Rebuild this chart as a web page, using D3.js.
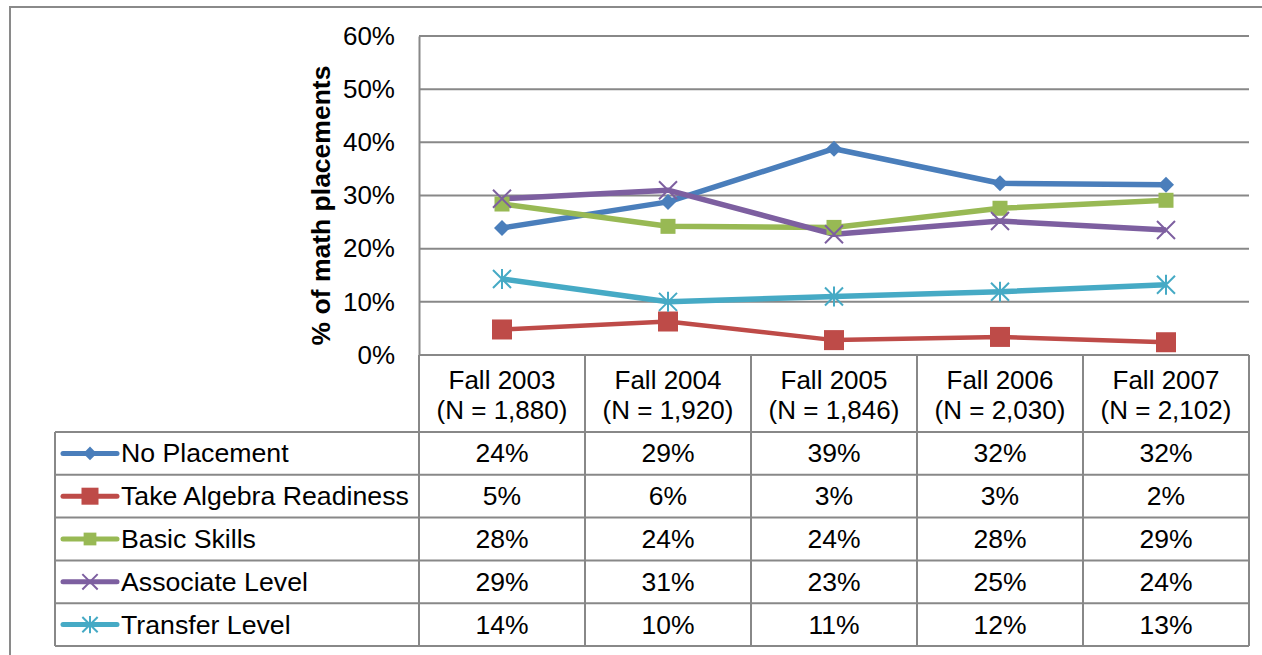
<!DOCTYPE html>
<html>
<head>
<meta charset="utf-8">
<script src="https://cdn.jsdelivr.net/npm/d3@7"></script>
<style>
  body { margin: 0; background: #fff; }
  text { font-family: "Liberation Sans", Arial, sans-serif; fill: #000; }
</style>
</head>
<body>
<div id="main"></div>
<script>
// data
var categories = ["Fall 2003", "Fall 2004", "Fall 2005", "Fall 2006", "Fall 2007"];
var counts = ["(N = 1,880)", "(N = 1,920)", "(N = 1,846)", "(N = 2,030)", "(N = 2,102)"];
var seriesNames = ["No Placement", "Take Algebra Readiness", "Basic Skills", "Associate Level", "Transfer Level"];
var noPlacement = [23.9, 28.8, 38.8, 32.3, 32.0];
var algebraReadiness = [4.8, 6.3, 2.8, 3.4, 2.4];
var basicSkills = [28.4, 24.2, 24.0, 27.6, 29.1];
var associateLevel = [29.4, 31.0, 22.7, 25.2, 23.5];
var transferLevel = [14.3, 10.0, 11.0, 11.9, 13.2];
var tableLabels = [
  ["24%", "29%", "39%", "32%", "32%"],
  ["5%", "6%", "3%", "3%", "2%"],
  ["28%", "24%", "24%", "28%", "29%"],
  ["29%", "31%", "23%", "25%", "24%"],
  ["14%", "10%", "11%", "12%", "13%"]
];
var yTicks = [0, 10, 20, 30, 40, 50, 60];

var allSeries = [noPlacement, algebraReadiness, basicSkills, associateLevel, transferLevel];
var colors = ["#4a7ebb", "#be4b48", "#98b954", "#7d5fa0", "#46aac5"];
var markers = ["diamond", "bigsquare", "square", "x", "star"];

var W = 1262, H = 655;
var plot = {left: 419, right: 1249, top: 36, bottom: 355};
var tableLeft = 55;
var headerBottom = 432, rowH = 42.8;
var gridColor = "#888";
var fontSize = "26px";

var svg = d3.select("#main")
  .append("svg")
    .attr("width", W)
    .attr("height", H);

// outer chart border
svg.append("rect")
  .attr("x", 10).attr("y", 7)
  .attr("width", W + 10).attr("height", H + 10)
  .attr("fill", "none")
  .attr("stroke", "#8a8a8a")
  .attr("stroke-width", 2);

var xScale = d3.scaleBand()
  .domain(categories)
  .range([plot.left, plot.right]);

var yScale = d3.scaleLinear()
  .domain([0, 60])
  .range([plot.bottom, plot.top]);

// gridlines
svg.append("g")
  .selectAll("line")
  .data(yTicks)
  .enter()
  .append("line")
    .attr("x1", plot.left)
    .attr("x2", plot.right)
    .attr("y1", function(d) { return yScale(d); })
    .attr("y2", function(d) { return yScale(d); })
    .attr("stroke", gridColor)
    .attr("stroke-width", 2);

// y axis
var yAxis = svg.append("g")
  .attr("transform", "translate(" + plot.left + ",0)")
  .call(d3.axisLeft(yScale).tickValues(yTicks).tickSize(0).tickPadding(24)
    .tickFormat(function(d) { return d + "%"; }));
yAxis.select(".domain").attr("stroke", gridColor).attr("stroke-width", 2);
yAxis.selectAll("text")
  .style("font-size", fontSize)
  .style("font-family", "Liberation Sans, Arial, sans-serif")
  .attr("fill", "#000");

// y axis title
svg.append("text")
  .attr("transform", "translate(330," + ((plot.top + plot.bottom) / 2 + 10) + ") rotate(-90)")
  .style("text-anchor", "middle")
  .style("font-size", "26.5px")
  .style("font-weight", "bold")
  .text("% of math placements");

// marker drawing
function drawMarker(g, type, color, x, y, scale) {
  scale = scale || 1;
  if (type === "diamond") {
    var s = 8 * scale;
    g.append("path")
      .attr("d", "M" + x + "," + (y - s) + "L" + (x + s) + "," + y + "L" + x + "," + (y + s) + "L" + (x - s) + "," + y + "Z")
      .attr("fill", color);
  } else if (type === "bigsquare" || type === "square") {
    var h = (type === "bigsquare" ? 10 : 7.5) * scale;
    g.append("rect")
      .attr("x", x - h).attr("y", y - h)
      .attr("width", 2 * h).attr("height", 2 * h)
      .attr("fill", color);
  } else if (type === "x") {
    var k = 9 * scale;
    g.append("path")
      .attr("d", "M" + (x - k) + "," + (y - k) + "L" + (x + k) + "," + (y + k) + "M" + (x - k) + "," + (y + k) + "L" + (x + k) + "," + (y - k))
      .attr("stroke", color).attr("stroke-width", 2).attr("fill", "none");
  } else if (type === "star") {
    var r = 9 * scale;
    g.append("path")
      .attr("d", "M" + (x - r) + "," + (y - r) + "L" + (x + r) + "," + (y + r) + "M" + (x - r) + "," + (y + r) + "L" + (x + r) + "," + (y - r) +
                 "M" + x + "," + (y - r - 1) + "L" + x + "," + (y + r + 1))
      .attr("stroke", color).attr("stroke-width", 2).attr("fill", "none");
  }
}

// lines
var line = d3.line()
  .x(function(d, i) { return xScale(categories[i]) + xScale.bandwidth() / 2; })
  .y(function(d) { return yScale(d); });

var linesG = svg.append("g");
allSeries.forEach(function(values, s) {
  linesG.append("path")
    .datum(values)
    .attr("d", line)
    .attr("fill", "none")
    .attr("stroke", colors[s])
    .attr("stroke-width", s === 1 ? 4.5 : 5.5)
    .attr("stroke-linejoin", "round");
});
// markers on top, in series order
allSeries.forEach(function(values, s) {
  var mg = svg.append("g");
  values.forEach(function(v, i) {
    drawMarker(mg, markers[s], colors[s], xScale(categories[i]) + xScale.bandwidth() / 2, yScale(v));
  });
});

// data table
var tableBottom = headerBottom + rowH * seriesNames.length;
var tg = svg.append("g").attr("stroke", gridColor).attr("stroke-width", 2);

// vertical lines of category columns
categories.forEach(function(c, i) {
  tg.append("line")
    .attr("x1", xScale(c)).attr("x2", xScale(c))
    .attr("y1", plot.bottom).attr("y2", tableBottom);
});
tg.append("line")
  .attr("x1", plot.right).attr("x2", plot.right)
  .attr("y1", plot.bottom).attr("y2", tableBottom);
tg.append("line")
  .attr("x1", tableLeft).attr("x2", tableLeft)
  .attr("y1", headerBottom).attr("y2", tableBottom);

// horizontal lines
d3.range(seriesNames.length + 1).forEach(function(r) {
  var y = headerBottom + r * rowH;
  tg.append("line")
    .attr("x1", tableLeft).attr("x2", plot.right)
    .attr("y1", y).attr("y2", y);
});

// header text
categories.forEach(function(c, i) {
  var cx = xScale(c) + xScale.bandwidth() / 2;
  svg.append("text")
    .attr("x", cx).attr("y", 389)
    .style("text-anchor", "middle")
    .style("font-size", fontSize)
    .text(c);
  svg.append("text")
    .attr("x", cx).attr("y", 419)
    .style("text-anchor", "middle")
    .style("font-size", fontSize)
    .text(counts[i]);
});

// rows
seriesNames.forEach(function(name, s) {
  var cy = headerBottom + s * rowH + rowH / 2;
  var lg = svg.append("g");
  lg.append("line")
    .attr("x1", 63).attr("x2", 117)
    .attr("y1", cy).attr("y2", cy)
    .attr("stroke", colors[s])
    .attr("stroke-width", 5)
    .attr("stroke-linecap", "round");
  drawMarker(lg, markers[s], colors[s], 90, cy, 0.85);
  svg.append("text")
    .attr("x", 121).attr("y", cy + 9)
    .style("font-size", "26.7px")
    .text(name);
  tableLabels[s].forEach(function(t, i) {
    svg.append("text")
      .attr("x", xScale(categories[i]) + xScale.bandwidth() / 2)
      .attr("y", cy + 9)
      .style("text-anchor", "middle")
      .style("font-size", "26.5px")
      .text(t);
  });
});
</script>
</body>
</html>
